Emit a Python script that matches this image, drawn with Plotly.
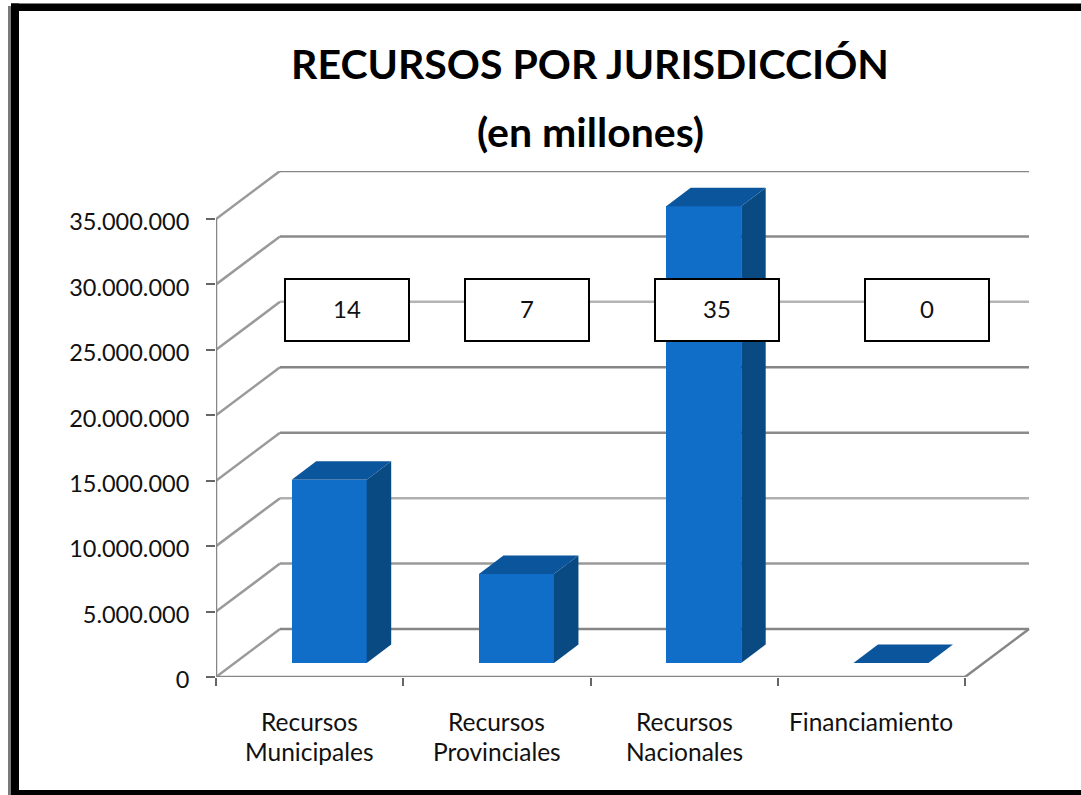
import plotly.graph_objects as go

TITLE_LINES = ["RECURSOS POR JURISDICCIÓN", "(en millones)"]
CATEGORIES = ["Recursos<br>Municipales", "Recursos<br>Provinciales", "Recursos<br>Nacionales", "Financiamiento"]
VALUES = [14000000, 6800000, 34900000, 0]
BOX_LABELS = ["14", "7", "35", "0"]
Y_TICKS = [0, 5000000, 10000000, 15000000, 20000000, 25000000, 30000000, 35000000]
Y_TICK_TEXT = ["0", "5.000.000", "10.000.000", "15.000.000", "20.000.000", "25.000.000", "30.000.000", "35.000.000"]

W, H = 1081, 795
X0, XBACK = 216, 1030      # pixel extent of the plot area
Y0, YTOP = 677, 171
PX_PER_CAT = 187.25
PX_PER_UNIT = (677 - 219) / 35000000
FONT = "Lato"
TXT = "#111111"

def px(p): return p / W
def py(p): return 1 - p / H
def dx(p): return p / PX_PER_CAT
def dy(p): return p / PX_PER_UNIT

WALL_DX, WALL_DY = dx(64), dy(48)
BAR_X, BAR_W = dx(75.7), dx(75)
BAR_BASE = dy(14)
DEPTH_X, DEPTH_Y = dx(24.5), dy(18.5)
FRONT, TOP, SIDE = "#106EC8", "#0B559C", "#0A4A82"
GRID_COLORS = ["#868686", "#9a9a9a", "#b0b0b0", "#8a8a8a", "#868686", "#b4b4b4", "#8a8a8a", "#868686"]
AXIS = "#868686"
DIAG = "#9a9a9a"

fig = go.Figure()
centers = [i + BAR_X + BAR_W / 2 for i in range(len(CATEGORIES))]
fig.add_bar(x=centers, y=VALUES, base=[BAR_BASE] * 4, width=BAR_W, marker=dict(color=FRONT, line_width=0),
            cliponaxis=False, showlegend=False, hoverinfo="skip")

for i, v in enumerate(VALUES):
    xl, xr = i + BAR_X, i + BAR_X + BAR_W
    yb, yt = BAR_BASE, BAR_BASE + v
    if v > 0:
        fig.add_scatter(x=[xr, xr + DEPTH_X, xr + DEPTH_X, xr, xr], y=[yb, yb + DEPTH_Y, yt + DEPTH_Y, yt, yb],
                        fill="toself", fillcolor=SIDE, mode="none", cliponaxis=False, showlegend=False, hoverinfo="skip")
    fig.add_scatter(x=[xl, xr, xr + DEPTH_X, xl + DEPTH_X, xl], y=[yt, yt, yt + DEPTH_Y, yt + DEPTH_Y, yt],
                    fill="toself", fillcolor=TOP, mode="none", cliponaxis=False, showlegend=False, hoverinfo="skip")

shapes = []
def line(x0, y0, x1, y1, color, width=2.5, xref="x", yref="y"):
    shapes.append(dict(type="line", x0=x0, y0=y0, x1=x1, y1=y1, xref=xref, yref=yref,
                       line=dict(color=color, width=width), layer="below"))

n = len(CATEGORIES)
for v, c in zip(Y_TICKS, GRID_COLORS):
    line(0, v, WALL_DX, v + WALL_DY, DIAG)
    line(WALL_DX, v + WALL_DY, n + WALL_DX, v + WALL_DY, c)
line(0, 0, 0, Y_TICKS[-1], AXIS)
line(0, 0, n, 0, AXIS)
line(n, 0, n + WALL_DX, WALL_DY, AXIS)

# outer frame
def rect(x0, y0, x1, y1, color):
    shapes.append(dict(type="rect", xref="paper", yref="paper", x0=px(x0), x1=px(x1), y0=py(y0), y1=py(y1),
                       fillcolor=color, line_width=0, layer="above"))
rect(8, 6, 11, 795, "#7a7a7a")
rect(11, 3.5, 1081, 11, "#000000")
rect(11, 3.5, 19, 795, "#000000")
rect(11, 790, 1081, 795, "#000000")

ann = []
for line_text, yc in zip(TITLE_LINES[1:], [132]):
    ann.append(dict(text="<b>%s</b>" % line_text, xref="paper", yref="paper", x=px(590), y=py(yc), showarrow=False,
                    xanchor="center", yanchor="middle", font=dict(family=FONT, size=41, color="#000000")))

for i, cat in enumerate(CATEGORIES):
    parts = cat.split("<br>")
    for j, part in enumerate(parts):
        ann.append(dict(text=part, xref="x", yref="paper", x=i + 0.5, y=py(721 + 30 * j), showarrow=False,
                        xanchor="center", yanchor="middle", font=dict(family=FONT, size=24.5, color=TXT)))

for label, cx in zip(BOX_LABELS, [347, 527, 717, 927]):
    ann.append(dict(text=label, xref="paper", yref="paper", x=px(cx), y=py(309.5), showarrow=False,
                    xanchor="center", yanchor="middle", width=94, height=32, bgcolor="#ffffff",
                    bordercolor="#000000", borderwidth=2, borderpad=14, align="center", valign="top",
                    font=dict(family=FONT, size=24, color=TXT)))

fig.update_layout(
    width=W, height=H, autosize=False, margin=dict(l=0, r=0, t=0, b=0, autoexpand=False),
    paper_bgcolor="#ffffff", plot_bgcolor="rgba(0,0,0,0)", showlegend=False,
    title=dict(text="<b>%s</b>" % TITLE_LINES[0], x=px(590), xanchor="center", y=py(65), yanchor="middle",
               font=dict(family=FONT, size=41, color="#000000")),
    shapes=shapes, annotations=ann, bargap=0,
    xaxis=dict(domain=[px(X0), px(XBACK)], range=[0, dx(XBACK - X0)], showgrid=False, zeroline=False, showline=False,
               showticklabels=False, ticks="", tickvals=[],
               minor=dict(tickvals=list(range(n + 1)), ticks="outside", ticklen=8, tickwidth=2, tickcolor="#666666", showgrid=False)),
    yaxis=dict(domain=[py(Y0), py(YTOP)], range=[0, dy(Y0 - YTOP)], showgrid=False, zeroline=False, showline=False,
               tickvals=Y_TICKS, ticktext=Y_TICK_TEXT, ticks="outside", ticklen=9, tickwidth=2, tickcolor="#666666",
               ticklabelstandoff=12, ticklabelshift=3, tickfont=dict(family=FONT, size=23.5, color=TXT)),
)
fig.write_html("out.html", post_script="document.body.style.margin='0';document.documentElement.style.overflow='hidden';",
               config={"displayModeBar": False})
